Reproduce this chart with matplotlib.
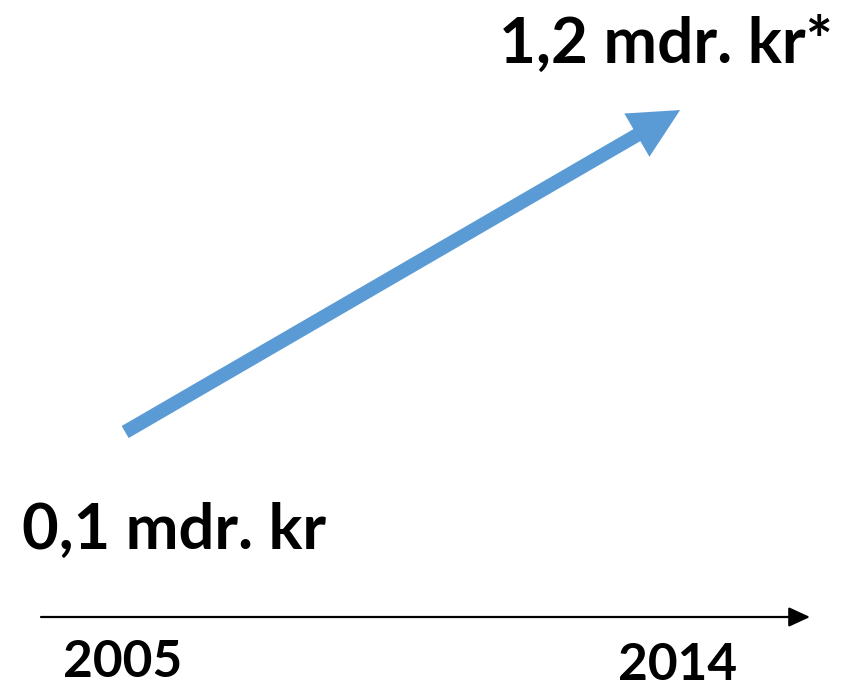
import matplotlib
matplotlib.use('Agg')
import matplotlib.pyplot as plt
from matplotlib.patches import FancyArrowPatch

# data
years = [2005, 2014]
amounts = [0.1, 1.2]          # mdr. kr
amount_labels = ['0,1 mdr. kr', '1,2 mdr. kr*']
year_labels = ['2005', '2014']

BLUE = '#5B9BD5'
FONT = 'Lato'

fig = plt.figure(figsize=(8.54, 6.89), dpi=100)
ax = fig.add_axes([0, 0, 1, 1])
ax.set_xlim(2002.97, 2016.82)
ax.set_ylim(-0.778, 1.576)
ax.axis('off')

# blue growth arrow from first to last value
growth = FancyArrowPatch((years[0], amounts[0]), (years[1], amounts[1]),
                         arrowstyle='simple,head_length=36,head_width=36,tail_width=10',
                         mutation_scale=1, shrinkA=0, shrinkB=0,
                         color=BLUE, lw=0)
ax.add_patch(growth)

# time axis
ax.annotate('', xy=(810 / 854, 1 - 617 / 689), xytext=(41 / 854, 1 - 617 / 689),
            xycoords='axes fraction', textcoords='axes fraction',
            arrowprops=dict(arrowstyle='-|>,head_length=13,head_width=6', mutation_scale=1,
                            color='black', lw=1.6, shrinkA=0, shrinkB=0))

def put(txt, x, y, size):
    fig.text(x, 689 - y, txt, transform=None, ha='left', va='baseline',
             fontsize=size, fontweight='bold', family=FONT)

put(amount_labels[1], 499, 63, 46)
put(amount_labels[0], 22, 549, 45.5)
put(year_labels[0], 63, 677, 37)
put(year_labels[1], 618, 680, 37)

fig.savefig('out.png', dpi=100)
